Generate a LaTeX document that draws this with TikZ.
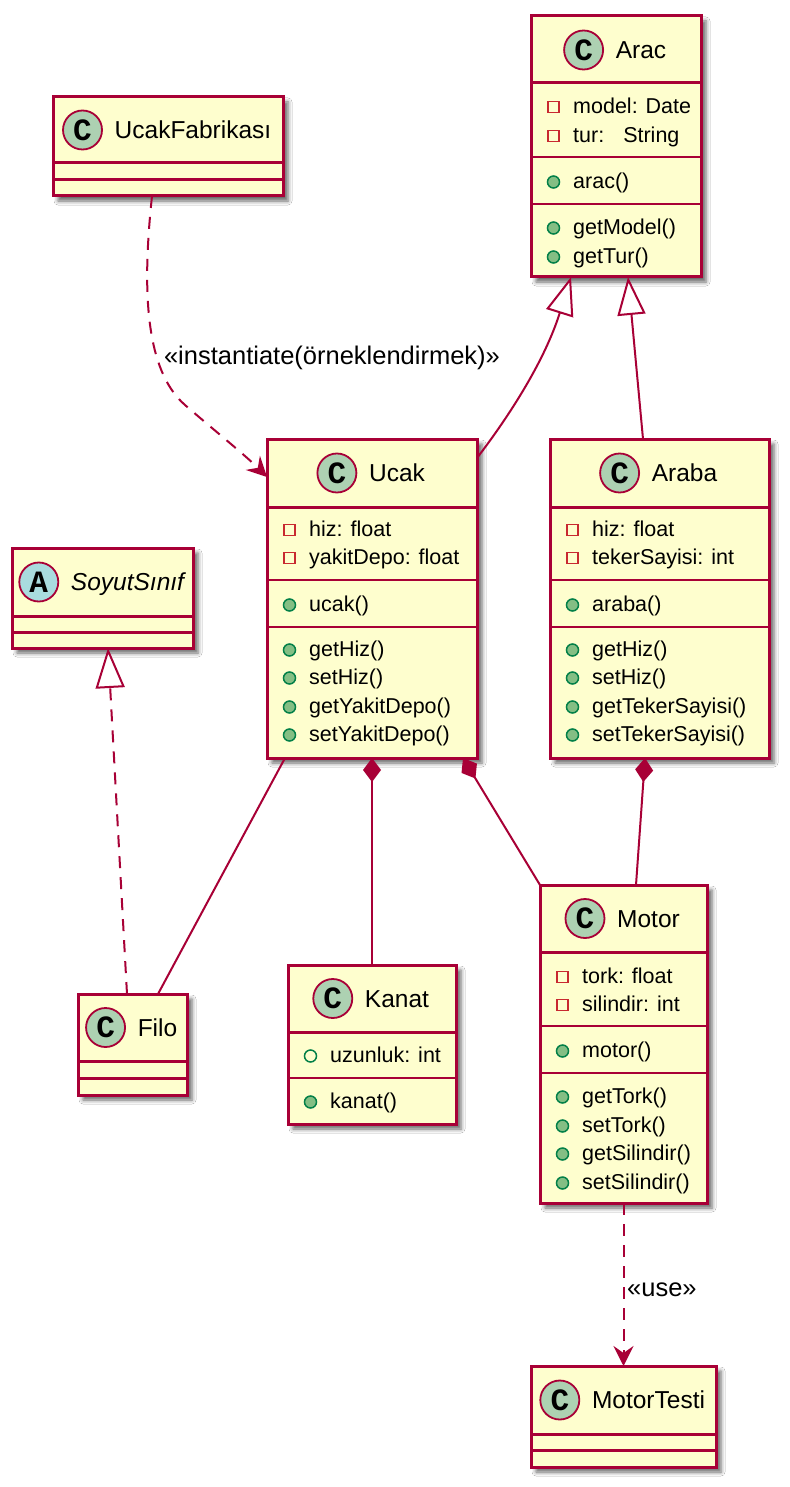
\documentclass[tikz,border=0pt]{standalone}
\usepackage{fontspec}
\setmainfont{Liberation Sans}
\newfontfamily\umlglyphfont{Liberation Mono}
\usetikzlibrary{arrows.meta,shadows.blur,calc}

\definecolor{umlline}{HTML}{A80036}
\definecolor{umlfill}{HTML}{FEFECE}
\definecolor{classmark}{HTML}{ADD1B2}
\definecolor{abstractmark}{HTML}{A9DCDF}
\definecolor{privred}{HTML}{C82930}
\definecolor{pubgreen}{HTML}{038048}
\definecolor{pubfill}{HTML}{84BE84}

\tikzset{
  classbox/.style={rectangle, draw=umlline, fill=umlfill, line width=3pt,
    inner sep=0pt, outer sep=0pt,
    blur shadow={shadow xshift=5pt, shadow yshift=-5pt, shadow blur radius=4pt, shadow opacity=60}},
  headtitle/.style={inner sep=0pt, font=\fontsize{24.5}{28}\selectfont, text height=17pt, text depth=0pt},
  headmark/.style={circle, draw=umlline, line width=1.8pt, minimum size=39pt, inner sep=0pt,
    font=\umlglyphfont\bfseries\fontsize{31}{31}\selectfont},
  membertext/.style={anchor=west, inner sep=0pt, font=\fontsize{21.5}{25}\selectfont,
    text height=17pt, text depth=4pt},
  privmark/.style={rectangle, draw=privred, line width=1.5pt, minimum size=11pt, inner sep=0pt},
  pubmethod/.style={circle, draw=pubgreen, fill=pubfill, line width=1.5pt, minimum size=12pt, inner sep=0pt},
  pubfield/.style={circle, draw=pubgreen, line width=1.5pt, minimum size=12pt, inner sep=0pt},
  headsep/.style={draw=umlline, line width=3pt},
  bodysep/.style={draw=umlline, line width=1.5pt},
  link/.style={draw=umlline, line width=2pt},
  dashlink/.style={link, dash pattern=on 12pt off 9pt},
  gen/.style={link, -{Triangle[length=38pt, width=28pt, fill=white]}},
  realize/.style={dashlink, -{Triangle[length=40pt, width=29pt, fill=white]}},
  comp/.style={link, {Diamond[length=24pt, width=18pt]}-},
  dep/.style={dashlink, -{Stealth[length=20pt, width=20pt, inset=7pt]}},
  edgelabel/.style={inner sep=0pt, font=\fontsize{25.5}{28}\selectfont, text height=17pt, text depth=5pt}
}

% class frame: id, x1, y1, x2, y2
\newcommand{\umlbox}[5]{%
  \node[classbox, minimum width={(#4)-(#2)}, minimum height={(#5)-(#3)}, anchor=north west] (#1) at (#2,#3) {};}
% header: id, x1, x2, y centre, letter, mark colour, title
\newcommand{\umlhead}[7]{%
  \node[headtitle] (#1-title) at ({(#2+#3)/2+25},#4) {#7};
  \node[headmark, fill=#6] (#1-mark) at ($(#1-title.west)+(-32,0)$) {#5};}
% member row: id, box left x, y, marker style, text
\newcommand{\umlmember}[5]{%
  \node[#4] (#1-mark) at ({#2+22.5},#3) {};
  \node[membertext] (#1) at ({#2+42},#3) {#5};}
% separator: style, x1, x2, y
\newcommand{\umlsep}[4]{\draw[#1] (#2,#4) -- (#3,#4);}

\begin{document}
\begin{tikzpicture}[x=1pt, y=-1pt]
\fill[white] (0,0) rectangle (789,1487);
\useasboundingbox (0,0) rectangle (789,1487);

% ---- Arac
\umlbox{arac}{531}{16}{701}{277}
\umlhead{arac}{531}{701}{50}{C}{classmark}{Arac}
\umlsep{headsep}{531}{701}{83}
\umlmember{arac-a1}{531}{107}{privmark}{model: Date}
\umlmember{arac-a2}{531}{136}{privmark}{tur:\hspace{19pt}String}
\umlsep{bodysep}{531}{701}{157}
\umlmember{arac-c1}{531}{182}{pubmethod}{arac()}
\umlsep{bodysep}{531}{701}{204}
\umlmember{arac-m1}{531}{228}{pubmethod}{getModel()}
\umlmember{arac-m2}{531}{257}{pubmethod}{getTur()}

% ---- UcakFabrikası
\umlbox{fab}{53}{97}{283}{196}
\umlhead{fab}{53}{283}{130}{C}{classmark}{UcakFabrikası}
\umlsep{headsep}{53}{283}{163}
\umlsep{headsep}{53}{283}{180}

% ---- Ucak
\umlbox{ucak}{267}{439}{477}{758}
\umlhead{ucak}{267}{477}{473}{C}{classmark}{Ucak}
\umlsep{headsep}{267}{477}{507}
\umlmember{ucak-a1}{267}{530}{privmark}{hiz: float}
\umlmember{ucak-a2}{267}{558}{privmark}{yakitDepo: float}
\umlsep{bodysep}{267}{477}{580}
\umlmember{ucak-c1}{267}{605}{pubmethod}{ucak()}
\umlsep{bodysep}{267}{477}{627}
\umlmember{ucak-m1}{267}{650}{pubmethod}{getHiz()}
\umlmember{ucak-m2}{267}{678}{pubmethod}{setHiz()}
\umlmember{ucak-m3}{267}{707}{pubmethod}{getYakitDepo()}
\umlmember{ucak-m4}{267}{735}{pubmethod}{setYakitDepo()}

% ---- Araba
\umlbox{araba}{550}{439}{769}{758}
\umlhead{araba}{550}{769}{473}{C}{classmark}{Araba}
\umlsep{headsep}{550}{769}{507}
\umlmember{araba-a1}{550}{530}{privmark}{hiz: float}
\umlmember{araba-a2}{550}{558}{privmark}{tekerSayisi: int}
\umlsep{bodysep}{550}{769}{580}
\umlmember{araba-c1}{550}{605}{pubmethod}{araba()}
\umlsep{bodysep}{550}{769}{627}
\umlmember{araba-m1}{550}{650}{pubmethod}{getHiz()}
\umlmember{araba-m2}{550}{678}{pubmethod}{setHiz()}
\umlmember{araba-m3}{550}{707}{pubmethod}{getTekerSayisi()}
\umlmember{araba-m4}{550}{735}{pubmethod}{setTekerSayisi()}

% ---- SoyutSınıf (abstract)
\umlbox{soyut}{12}{548}{193}{648}
\umlhead{soyut}{12}{193}{582}{A}{abstractmark}{\itshape SoyutSınıf}
\umlsep{headsep}{12}{193}{616}
\umlsep{headsep}{12}{193}{632}

% ---- Filo
\umlbox{filo}{78}{994}{187}{1095}
\umlhead{filo}{78}{187}{1027.5}{C}{classmark}{Filo}
\umlsep{headsep}{78}{187}{1061}
\umlsep{headsep}{78}{187}{1078}

% ---- Kanat
\umlbox{kanat}{288}{965}{456}{1124}
\umlhead{kanat}{288}{456}{998.5}{C}{classmark}{Kanat}
\umlsep{headsep}{288}{456}{1032}
\umlmember{kanat-a1}{288}{1056}{pubfield}{uzunluk: int}
\umlsep{bodysep}{288}{456}{1078}
\umlmember{kanat-c1}{288}{1102}{pubmethod}{kanat()}

% ---- Motor
\umlbox{motor}{540}{885}{707}{1203}
\umlhead{motor}{540}{707}{918.5}{C}{classmark}{Motor}
\umlsep{headsep}{540}{707}{952}
\umlmember{motor-a1}{540}{977}{privmark}{tork: float}
\umlmember{motor-a2}{540}{1005}{privmark}{silindir: int}
\umlsep{bodysep}{540}{707}{1026}
\umlmember{motor-c1}{540}{1051}{pubmethod}{motor()}
\umlsep{bodysep}{540}{707}{1073}
\umlmember{motor-m1}{540}{1097}{pubmethod}{getTork()}
\umlmember{motor-m2}{540}{1126}{pubmethod}{setTork()}
\umlmember{motor-m3}{540}{1154}{pubmethod}{getSilindir()}
\umlmember{motor-m4}{540}{1183}{pubmethod}{setSilindir()}

% ---- MotorTesti
\umlbox{testi}{531}{1366}{716}{1467}
\umlhead{testi}{531}{716}{1400}{C}{classmark}{MotorTesti}
\umlsep{headsep}{531}{716}{1434}
\umlsep{headsep}{531}{716}{1450}

% ---- relations
\draw[dep] ([xshift=-16pt]fab.south)
  .. controls (142,290) and (145,370) .. (185,405)
  .. controls (215,431) and (245,455) .. ([yshift=-38pt]ucak.north west);
\node[edgelabel] (instlabel) at (332,358) {«instantiate(örneklendirmek)»};

\draw[gen] ([yshift=-19pt]ucak.north east)
  .. controls (510,415) and (545,360) .. ([xshift=-45pt]arac.south);
\draw[gen] ([xshift=-16.5pt]araba.north) -- ([xshift=12pt]arac.south);

\draw[comp] (ucak.south) -- (kanat.north);
\draw[comp] ([xshift=-14pt]ucak.south east) -- (motor.north west);
\draw[comp] ([xshift=-14.5pt]araba.south) -- ([xshift=12.5pt]motor.north);
\draw[link] ([xshift=18pt]ucak.south west) -- ([xshift=25.5pt]filo.north);
\draw[realize] ([xshift=-5.5pt]filo.north) -- ([xshift=5.5pt]soyut.south);

\draw[dep] (motor.south) -- (testi.north);
\node[edgelabel, anchor=west] (uselabel) at (627,1290) {«use»};
\end{tikzpicture}
\end{document}
